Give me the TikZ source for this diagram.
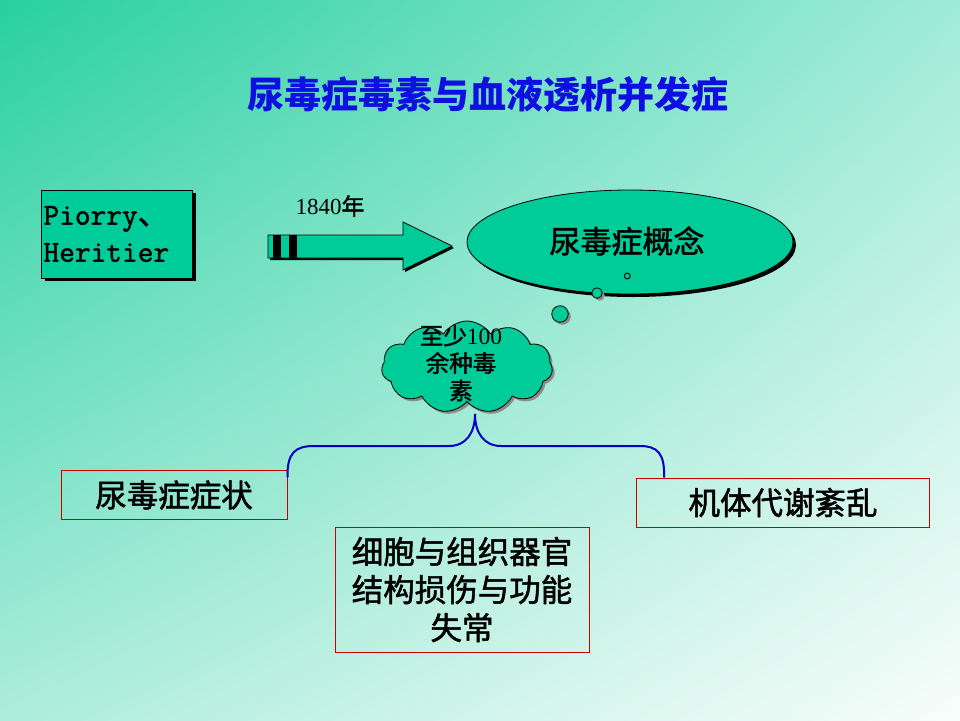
\documentclass[tikz,border=0pt]{standalone}
\usepackage{fontspec}
\setmainfont{Liberation Serif}
\setmonofont{Latin Modern Mono}[FakeBold=1.6]
\newfontfamily\cjk{Noto Sans CJK SC}
\newfontfamily\cjkm{Noto Sans CJK SC}[FakeBold=1.6]
\usetikzlibrary{shapes.symbols,shapes.geometric,shadows,shadings,calc}
\definecolor{bgUL}{RGB}{40,208,160}
\definecolor{bgUR}{RGB}{160,235,215}
\definecolor{bgLL}{RGB}{172,237,219}
\definecolor{bgLR}{RGB}{248,253,251}
\definecolor{tealfill}{RGB}{0,204,153}
\definecolor{tblue}{RGB}{15,15,225}
\definecolor{bred}{RGB}{200,0,0}
\definecolor{bblue}{RGB}{0,0,200}
\tikzset{
  blackshadow/.style={drop shadow={shadow xshift=3pt,shadow yshift=-3pt,fill=black,opacity=1}},
  grayshadow/.style={drop shadow={shadow xshift=2.5pt,shadow yshift=-2.5pt,fill=black!45,opacity=1}},
  redbox/.style={draw=bred,line width=1pt,inner sep=0pt,align=center,
    font=\cjkm\fontsize{31.5}{38}\selectfont},
  bubble/.style={circle,draw=black,fill=tealfill,inner sep=0pt,line width=0.8pt,grayshadow},
  bracepath/.style={draw=bblue,line width=2pt}
}
\begin{document}
\begin{tikzpicture}[x=1pt,y=-1pt]
\useasboundingbox (0,0) rectangle (960,720);
\shade[shading=bilinear interpolation,upper left=bgUL,upper right=bgUR,lower left=bgLL,lower right=bgLR] (0,0) rectangle (960,720);

% title
\node[text=tblue,font=\cjk\bfseries\fontsize{37}{40}\selectfont] (title) at (488,95) {尿毒症毒素与血液透析并发症};

% Piorry box
\node[draw=black,fill=tealfill,line width=1pt,blackshadow,minimum width=151pt,minimum height=88pt,
  inner sep=0pt,align=left,font=\ttfamily\fontsize{30.5}{37}\selectfont,text width=147pt] (pio) at (117,234)
  {Piorry{\cjkm 、}\\Heritier};

% block arrow
\fill[black] (270,237) -- (405,237) -- (405,224) -- (454,248) -- (405,272) -- (405,260) -- (270,260) -- cycle;
\draw[fill=tealfill,line width=0.8pt] (268,235) -- (403,235) -- (403,222) -- (452,246) -- (403,270) -- (403,258) -- (268,258) -- cycle;
\fill[black] (272.7,235) rectangle (280.7,258);
\fill[black] (289,235) rectangle (297,258);
\node[font=\fontsize{23}{27}\selectfont] (year) at (330,206) {1840{\cjkm 年}};

% ellipse
\node[ellipse,draw=black,fill=tealfill,line width=0.8pt,blackshadow,minimum width=326pt,minimum height=104pt] (concept) at (630,242) {};
\node[font=\cjkm\fontsize{31}{34}\selectfont] (ctext) at (627,241) {尿毒症概念};
\node[font=\cjk\fontsize{22}{24}\selectfont,anchor=base west,inner sep=0pt] (dot) at (623,278) {。};

% thought bubbles
\node[bubble,minimum size=10.5pt] (b1) at (597,293) {};
\node[bubble,minimum size=16.5pt] (b2) at (560,314) {};

% cloud
\node[cloud,cloud puffs=11,cloud puff arc=115,aspect=1.86,draw=black,fill=tealfill,line width=0.8pt,grayshadow,
  minimum width=171pt,minimum height=92pt,inner sep=0pt] (cloud) at (467,367) {};
\node[align=center,font=\cjkm\fontsize{23.5}{27.5}\selectfont] (ctxt) at (461,363)
  {至少{\rmfamily 100}\\余种毒\\素};

% boxes
\node[redbox,minimum width=226pt,minimum height=48.5pt] (lbox) at (174,495) {尿毒症症状};
\node[redbox,minimum width=293pt,minimum height=49pt] (rbox) at (783,502.5) {机体代谢紊乱};
\node[redbox,minimum width=254pt,minimum height=125pt] (mbox) at (462,589.5) {细胞与组织器官\\结构损伤与功能\\失常};

% brace
\coordinate (tip) at (475,414);
\coordinate (bl) at ($(lbox.north east)+(0,7)$);
\coordinate (br) at ($(rbox.north west)+(28,0)$);
\draw[bracepath] (bl) .. controls (287,453) and (295,446) .. (314,446) -- (449,446)
  .. controls (466,446) and (475,433) .. (tip);
\draw[bracepath] (tip) .. controls (475,433) and (484,446) .. (501,446) -- (640,446)
  .. controls (657,446) and (665,453) .. (br);
\end{tikzpicture}
\end{document}
